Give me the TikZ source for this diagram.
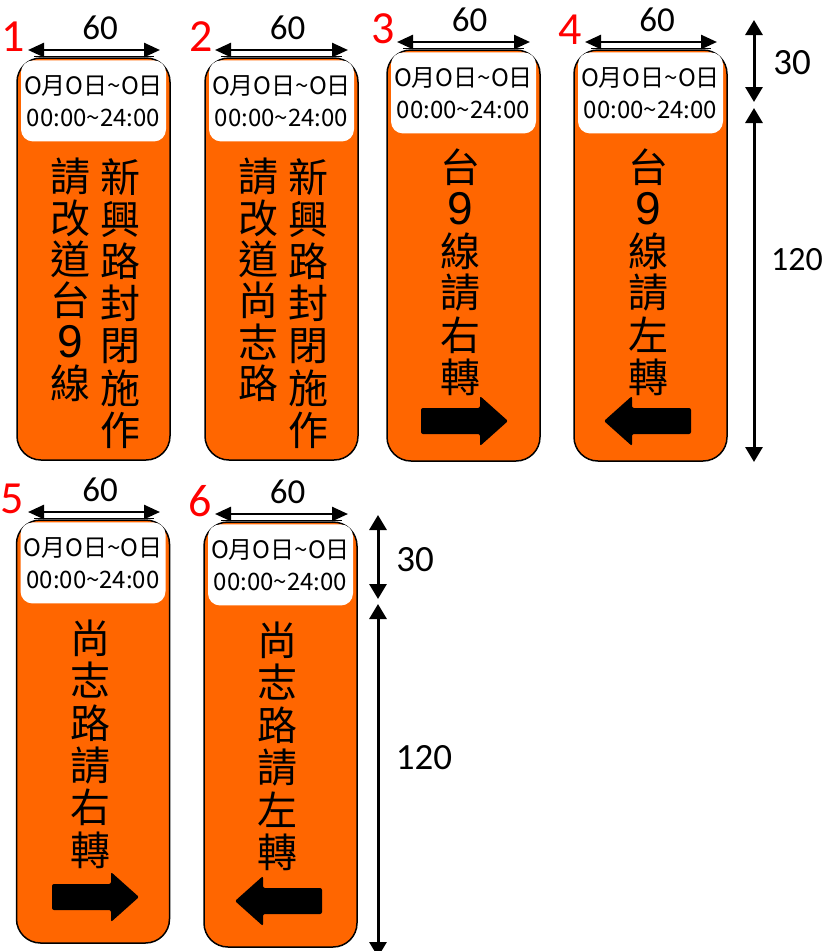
\documentclass[tikz,border=0pt]{standalone}
\usepackage{fontspec}
\setmainfont{Carlito}
\newfontfamily\cjk{Noto Sans CJK TC}
\newfontfamily\numfont{Liberation Sans}
\usetikzlibrary{arrows.meta}
\usetikzlibrary{positioning}
\definecolor{signorange}{HTML}{FF6600}
\definecolor{numred}{HTML}{FF0000}
\tikzset{
      sign/.style={draw=black, line width=1.5, fill=signorange, rounded corners=24,
            minimum width=153, minimum height=#1, inner sep=0},
      header/.style={fill=white, rounded corners=12, minimum width=145, minimum height=81,
            inner sep=0, align=center, font=\cjk\fontsize{24}{32}\selectfont},
      word/.style={font=\cjk\fontsize{40}{42}\selectfont, inner sep=0},
      signno/.style={text=numred, font=\fontsize{46}{46}\selectfont, inner sep=0},
      widthtext/.style={font=\fontsize{35}{35}\selectfont, inner sep=0},
      heighttext/.style={font=\fontsize{37}{37}\selectfont, inner sep=0},
      widthline/.style={line width=2.5, {Triangle[width=14pt,length=16pt]}-{Triangle[width=14pt,length=16pt]}},
      heightline/.style={line width=3, {Triangle[width=17pt,length=15pt]}-{Triangle[width=17pt,length=15pt]}},
      turnarrow/.pic={\fill[black, rounded corners=2] (-59,-13) -- (0,-13) -- (0,-25) -- (28,0)
            -- (0,25) -- (0,13) -- (-59,13) -- cycle;},
}
\newcommand{\datetext}{O月O日\textasciitilde O日\\00:00\textasciitilde 24:00}
\newcommand{\nine}{{\numfont\fontsize{46}{46}\selectfont 9}}

\begin{document}
\begin{tikzpicture}[x=1pt, y=-1pt]
        \useasboundingbox (0,0) rectangle (826,951);

        % the six signs
        \node[sign=402] (sign1) at (93.5,259) {};
        \node[sign=402] (sign2) at (281.5,259) {};
        \node[sign=411] (sign3) at (463.5,255.5) {};
        \node[sign=411] (sign4) at (650.5,255.5) {};
        \node[sign=423] (sign5) at (93,731.5) {};
        \node[sign=425] (sign6) at (280.5,734.5) {};

        % date and time boxes
        \foreach \s in {1,...,6}
            \node[header, below=3pt of sign\s.north] (head\s) {\datetext};

        % sign texts
        \foreach \c [count=\i from 0] in {請,改,道,台,\nine,線}
            \node[word] (s1l\i) at (70,177+41.2*\i) {\c};
        \foreach \c [count=\i from 0] in {新,興,路,封,閉,施,作}
            \node[word] (s1r\i) at (120,177+42.2*\i) {\c};
        \foreach \c [count=\i from 0] in {請,改,道,尚,志,路}
            \node[word] (s2l\i) at (258,177+41.2*\i) {\c};
        \foreach \c [count=\i from 0] in {新,興,路,封,閉,施,作}
            \node[word] (s2r\i) at (308,177+42.2*\i) {\c};
        \foreach \c [count=\i from 0] in {台,\nine,線,請,右,轉}
            \node[word] (s3\i) at (460,167+42*\i) {\c};
        \foreach \c [count=\i from 0] in {台,\nine,線,請,左,轉}
            \node[word] (s4\i) at (648,167+42*\i) {\c};
        \foreach \c [count=\i from 0] in {尚,志,路,請,右,轉}
            \node[word] (s5\i) at (90,638+42.4*\i) {\c};
        \foreach \c [count=\i from 0] in {尚,志,路,請,左,轉}
            \node[word] (s6\i) at (277,640+42.4*\i) {\c};

        % turn arrows
        \pic at (480,421) {turnarrow};
        \pic[xscale=-1] at (632,421) {turnarrow};
        \pic at (111,897) {turnarrow};
        \pic[xscale=-1] at (263,901) {turnarrow};

        % sign numbers
        \node[signno] (no1) at (13,37) {1};
        \node[signno] (no2) at (201,37) {2};
        \node[signno] (no3) at (383,29) {3};
        \node[signno] (no4) at (570,30) {4};
        \node[signno] (no5) at (12,499) {5};
        \node[signno] (no6) at (200,501) {6};

        % width of the signs
        \foreach \s/\xa/\xb/\y in {1/28/160/50, 2/215/348/50, 3/397/530/42,
                4/585/717/42, 5/28/160/512, 6/215/348/514} {
            \coordinate (wl\s) at (\xa,\y);
            \coordinate (wr\s) at (\xb,\y);
            \draw[widthline] (wl\s) -- (wr\s);
            \draw[line width=0.8] (\xa+6,\y+6.5) -- (\xb-6,\y+6.5);
            \node[widthtext] (wt\s) at ({(\xa+\xb)/2+6},\y-22) {60};
        }

        % heights, top row
        \coordinate (ht1) at (754,20);
        \coordinate (hm1) at (754,102);
        \coordinate (hn1) at (754,108);
        \coordinate (hb1) at (754,462);
        \draw[heightline] (ht1) -- (hm1);
        \draw[heightline] (hn1) -- (hb1);
        \node[heighttext] (h30a) at (792,63) {30};
        \node[heighttext, anchor=west, font=\fontsize{34}{34}\selectfont] (h120a) at (771,260) {120};

        % heights, bottom row
        \coordinate (ht2) at (378,515);
        \coordinate (hm2) at (378,599);
        \coordinate (hn2) at (378,604);
        \coordinate (hb2) at (378,957);
        \draw[heightline] (ht2) -- (hm2);
        \draw[heightline] (hn2) -- (hb2);
        \node[heighttext] (h30b) at (415,560) {30};
        \node[heighttext] (h120b) at (424,758) {120};

    \end{tikzpicture}
\end{document}
